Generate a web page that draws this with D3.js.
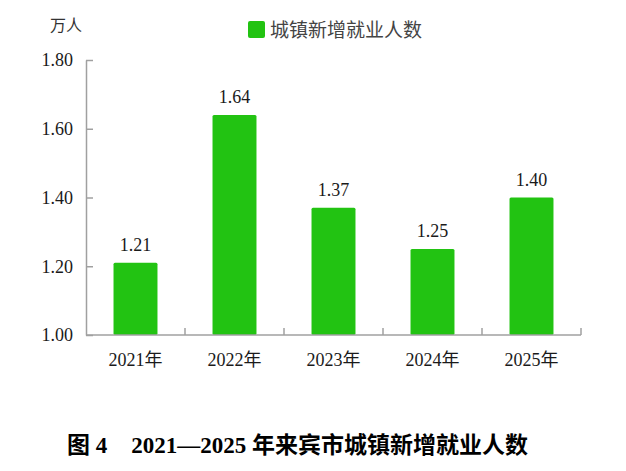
<!DOCTYPE html>
<html>
<head>
<meta charset="utf-8">
<script src="https://cdn.jsdelivr.net/npm/d3@7"></script>
<style>
  body { margin: 0; background: #fff; }
  svg { display: block; }
  text { font-family: "Liberation Serif", "Times New Roman", "Noto Sans CJK SC", serif; }
</style>
</head>
<body>
<div id="chart"></div>
<script>
// data
const years = ['2021年', '2022年', '2023年', '2024年', '2025年'];
const newJobs = [1.21, 1.64, 1.37, 1.25, 1.40];
const yTicks = [1.00, 1.20, 1.40, 1.60, 1.80];
const seriesName = '城镇新增就业人数';
const unitLabel = '万人';

const W = 626, H = 471;
const margin = { top: 60, right: 45, bottom: 136, left: 86 };
const width = W - margin.left - margin.right;
const height = H - margin.top - margin.bottom;

const svg = d3.select('#chart').append('svg')
  .attr('width', W)
  .attr('height', H);

const g = svg.append('g')
  .attr('transform', `translate(${margin.left},${margin.top})`);

// category slots (no padding) for boundary ticks, bars sit in the middle
const x = d3.scaleBand()
  .domain(years)
  .range([0, width])
  .padding(0);
const barW = x.bandwidth() * 0.444;

const y = d3.scaleLinear()
  .domain([1.0, 1.8])
  .range([height, 0]);

const axisColor = '#a0a0a0';

// y axis, ticks point inward
const yAxis = g.append('g')
  .call(d3.axisLeft(y)
    .tickValues(yTicks)
    .tickFormat(d3.format('.2f'))
    .tickSizeInner(-7)
    .tickSizeOuter(0)
    .tickPadding(13));
yAxis.select('.domain').attr('stroke', axisColor).attr('stroke-width', 1.5);
yAxis.selectAll('.tick line').attr('stroke', axisColor).attr('stroke-width', 1.5);
yAxis.selectAll('.tick text')
  .attr('fill', '#1a1a1a')
  .style('font-size', '18px');

// bars
g.selectAll('.bar')
  .data(newJobs)
  .enter().append('rect')
  .attr('class', 'bar')
  .attr('x', (d, i) => x(years[i]) + (x.bandwidth() - barW) / 2)
  .attr('y', d => y(d))
  .attr('width', barW)
  .attr('height', d => y(1.0) - y(d))
  .attr('rx', 1.5)
  .attr('fill', '#22c312');

// value labels
g.selectAll('.val')
  .data(newJobs)
  .enter().append('text')
  .attr('class', 'val')
  .attr('x', (d, i) => x(years[i]) + x.bandwidth() / 2)
  .attr('y', d => y(d) - 12)
  .attr('text-anchor', 'middle')
  .attr('fill', '#1a1a1a')
  .style('font-size', '18px')
  .text(d => d.toFixed(2));

// x axis
g.append('line')
  .attr('x1', 0)
  .attr('x2', width)
  .attr('y1', height)
  .attr('y2', height)
  .attr('stroke', axisColor)
  .attr('stroke-width', 1.5);

g.selectAll('.xtick')
  .data(years)
  .enter().append('line')
  .attr('class', 'xtick')
  .attr('x1', d => x(d) + x.bandwidth())
  .attr('x2', d => x(d) + x.bandwidth())
  .attr('y1', height)
  .attr('y2', height - 7)
  .attr('stroke', axisColor)
  .attr('stroke-width', 1.5);

g.selectAll('.xlabel')
  .data(years)
  .enter().append('text')
  .attr('class', 'xlabel')
  .attr('x', d => x(d) + x.bandwidth() / 2)
  .attr('y', height + 31)
  .attr('text-anchor', 'middle')
  .attr('fill', '#1a1a1a')
  .style('font-size', '18px')
  .text(d => d);

// unit
svg.append('text')
  .attr('x', 66)
  .attr('y', 31)
  .attr('text-anchor', 'middle')
  .attr('fill', '#333')
  .style('font-size', '16px')
  .text(unitLabel);

// legend
const legend = svg.append('g')
  .attr('transform', 'translate(248,21)');
legend.append('rect')
  .attr('width', 17)
  .attr('height', 17)
  .attr('rx', 2)
  .attr('fill', '#22c312');
legend.append('text')
  .attr('x', 22)
  .attr('y', 15.5)
  .attr('fill', '#444')
  .style('font-size', '19px')
  .text(seriesName);

// figure caption
const cap = svg.append('text')
  .attr('x', 67)
  .attr('y', 453)
  .attr('fill', '#000')
  .style('font-size', '23px')
  .style('font-weight', 'bold');
cap.append('tspan').text('图 4');
cap.append('tspan').attr('dx', 24).text('2021—2025 年来宾市城镇新增就业人数');
</script>
</body>
</html>
